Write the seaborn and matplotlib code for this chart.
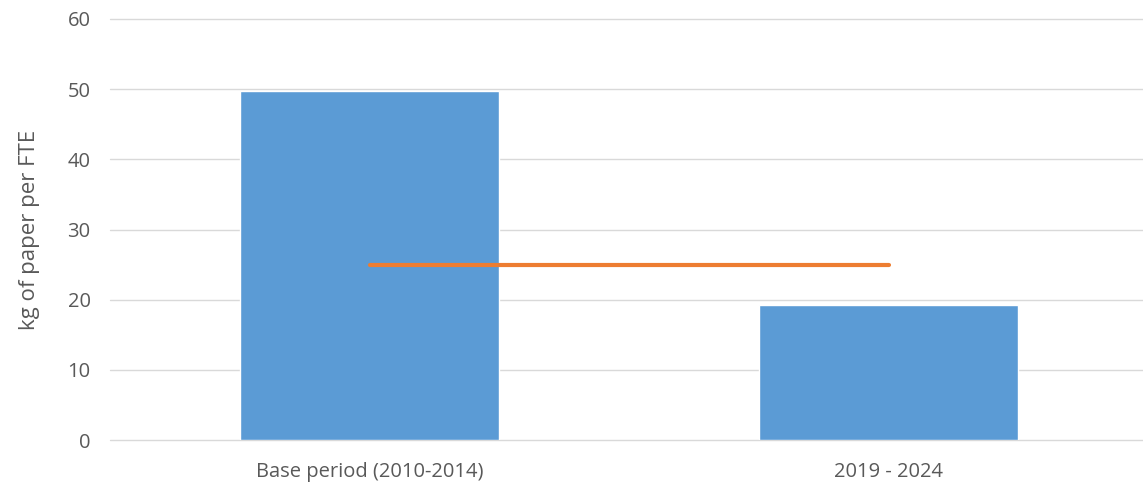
import matplotlib
matplotlib.use("Agg")
import matplotlib.pyplot as plt
import seaborn as sns
import pandas as pd

# data
periods = ["Base period (2010-2014)", "2019 - 2024"]
paper_kg = [49.8, 19.3]
target_kg = [25, 25]

sns.set_theme(style="white")
plt.rcParams["font.family"] = ["Open Sans", "DejaVu Sans"]

df = pd.DataFrame({"period": periods, "kg": paper_kg, "target": target_kg})

fig = plt.figure(figsize=(11.43, 4.87), dpi=100)
ax = fig.add_axes([110 / 1143, (487 - 440) / 487, 1033 / 1143, 421 / 487])

sns.barplot(data=df, x="period", y="kg", color="#5B9BD5", width=0.5,
            saturation=1, ax=ax)
sns.lineplot(x=[0, 1], y=df["target"], color="#ED7D31", linewidth=3,
             ax=ax, solid_capstyle="round")

ax.set_ylim(0, 60)
ax.set_xlim(-0.5, 1.49)
ax.set_yticks(range(0, 61, 10))
ax.yaxis.grid(True, color="#D9D9D9", linewidth=1)
for gl in ax.get_ygridlines():
    gl.set_clip_on(False)
ax.set_axisbelow(True)
for s in ax.spines.values():
    s.set_visible(False)
ax.tick_params(axis="both", length=0, colors="#595959", labelsize=14.5)
ax.tick_params(axis="y", pad=14)
ax.tick_params(axis="x", pad=16)
ax.set_xlabel("")
ax.set_ylabel("kg of paper per FTE", color="#595959", fontsize=16, labelpad=20)

fig.savefig("out.png", dpi=100)
